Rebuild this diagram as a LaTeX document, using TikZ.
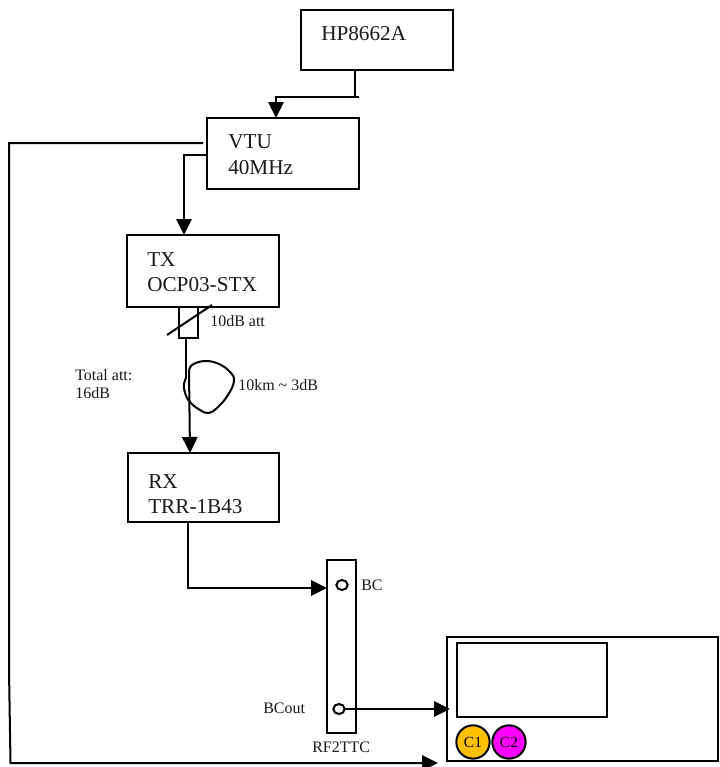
\documentclass[tikz,border=0pt]{standalone}
\usepackage{fontspec}
\setmainfont{Liberation Serif}
\usetikzlibrary{arrows.meta,calc,shapes.geometric}
\tikzset{
  boxshape/.style={draw=black,line width=1.5pt,rectangle,inner sep=0pt,outer sep=0pt,fill=none},
  wire/.style={draw=black,line width=1.5pt,line join=miter},
  arrowwire/.style={wire,-{Triangle[length=12pt,width=11.5pt]}},
  big/.style={anchor=base west,inner sep=0pt,text=black!90,font=\fontsize{15.9}{18}\selectfont},
  small/.style={anchor=base west,inner sep=0pt,text=black!90,font=\fontsize{12}{14}\selectfont},
  port/.style={ellipse,draw=black,line width=1.5pt,fill=white,inner sep=0pt,minimum width=8.5pt,minimum height=7.5pt,outer sep=0pt},
  chan/.style={circle,draw=black,line width=1.5pt,inner sep=0pt,minimum size=25pt,outer sep=0pt,font=\fontsize{11.6}{14}\selectfont},
}
\definecolor{cone}{HTML}{FFC000}
\definecolor{ctwo}{HTML}{FF00FF}
\newcommand{\pxbox}[5]{\node[boxshape,anchor=north west,minimum width={(#4-#2)*0.75pt},minimum height={(#5-#3)*0.75pt}] (#1) at (#2,#3) {};}
\begin{document}
\begin{tikzpicture}[x=0.75pt,y=-0.75pt]
\useasboundingbox (0,0) rectangle (719,767);
% boxes
\pxbox{hp}{301}{10}{453}{70}
\pxbox{vtu}{207}{118}{359}{189}
\pxbox{tx}{127}{235}{279}{307}
\pxbox{att}{179}{307}{198}{338}
\pxbox{rx}{128}{453}{279}{522}
\pxbox{rftc}{327}{560}{356}{733}
\pxbox{scope}{447}{637}{718}{761}
\pxbox{screen}{457}{643}{607}{717}
% ports and channels
\node[port] (bc) at (342,585) {};
\node[port] (bcout) at (339,709) {};
\node[chan,fill=cone] (c1) at (473,742) {C1};
\node[chan,fill=ctwo] (c2) at (509,742) {C2};
% text
\node[big] (thp) at (321,41) {HP8662A};
\node[big] (tvtu) at (228,148) {VTU};
\node[big] (tforty) at (228,174) {40MHz};
\node[big] (ttx) at (147,266) {TX};
\node[big] (tocp) at (147,291) {OCP03-STX};
\node[big] (trx) at (148,488) {RX};
\node[big] (ttrr) at (148,513) {TRR-1B43};
\node[small] (tatt) at (210,326) {10dB att};
\node[small] (tkm) at (238,390) {10km \char`\~\ 3dB};
\node[small] (ttot) at (75,380) {Total att:};
\node[small] (tsix) at (75,398) {16dB};
\node[small] (tbc) at (361,590) {BC};
\node[small] (tbco) at (263,713) {BCout};
\node[small] (trf) at (312,752) {RF2TTC};
% free ends
\coordinate (a) at (355,70);
\coordinate (b) at (355,97);
\coordinate (c) at (359,97);
\coordinate (d) at (276,118);
\coordinate (e) at (203,143);
\coordinate (f) at (207,155);
\coordinate (g) at (184,235);
\coordinate (h) at (186,338);
\coordinate (h2) at (186,379);
\coordinate (i1) at (189,371);
\coordinate (i) at (190,453);
\coordinate (j) at (188,522);
\coordinate (k) at (327,588);
\coordinate (l) at (450,709);
\coordinate (m) at (438,763);
% connectors
\draw[wire] (a) -- (b);
\draw[arrowwire] (c) -- (276,97) -- (d);
\draw[arrowwire] (e) -- (9,143) -- (9,670) -- (10.5,763) -- (m);
\draw[arrowwire] (f) -- (184,155) -- (g);
\draw[wire] (h) -- (h2);
\draw[arrowwire] (i1) -- (i);
\draw[arrowwire] (j) -- (188,588) -- (k);
\draw[arrowwire] (bcout.east) -- (l);
% attenuator slash
\draw[wire] (167,335) -- (212,305);
% fibre loop
\draw[wire,line cap=round] plot[smooth,tension=0.7] coordinates {(189,372) (192,365) (205,361) (219,364) (230,372) (234,381) (228,395) (218,407) (209,413) (200,410) (190,402) (185,393) (184,384) (186,378)};
\end{tikzpicture}
\end{document}
